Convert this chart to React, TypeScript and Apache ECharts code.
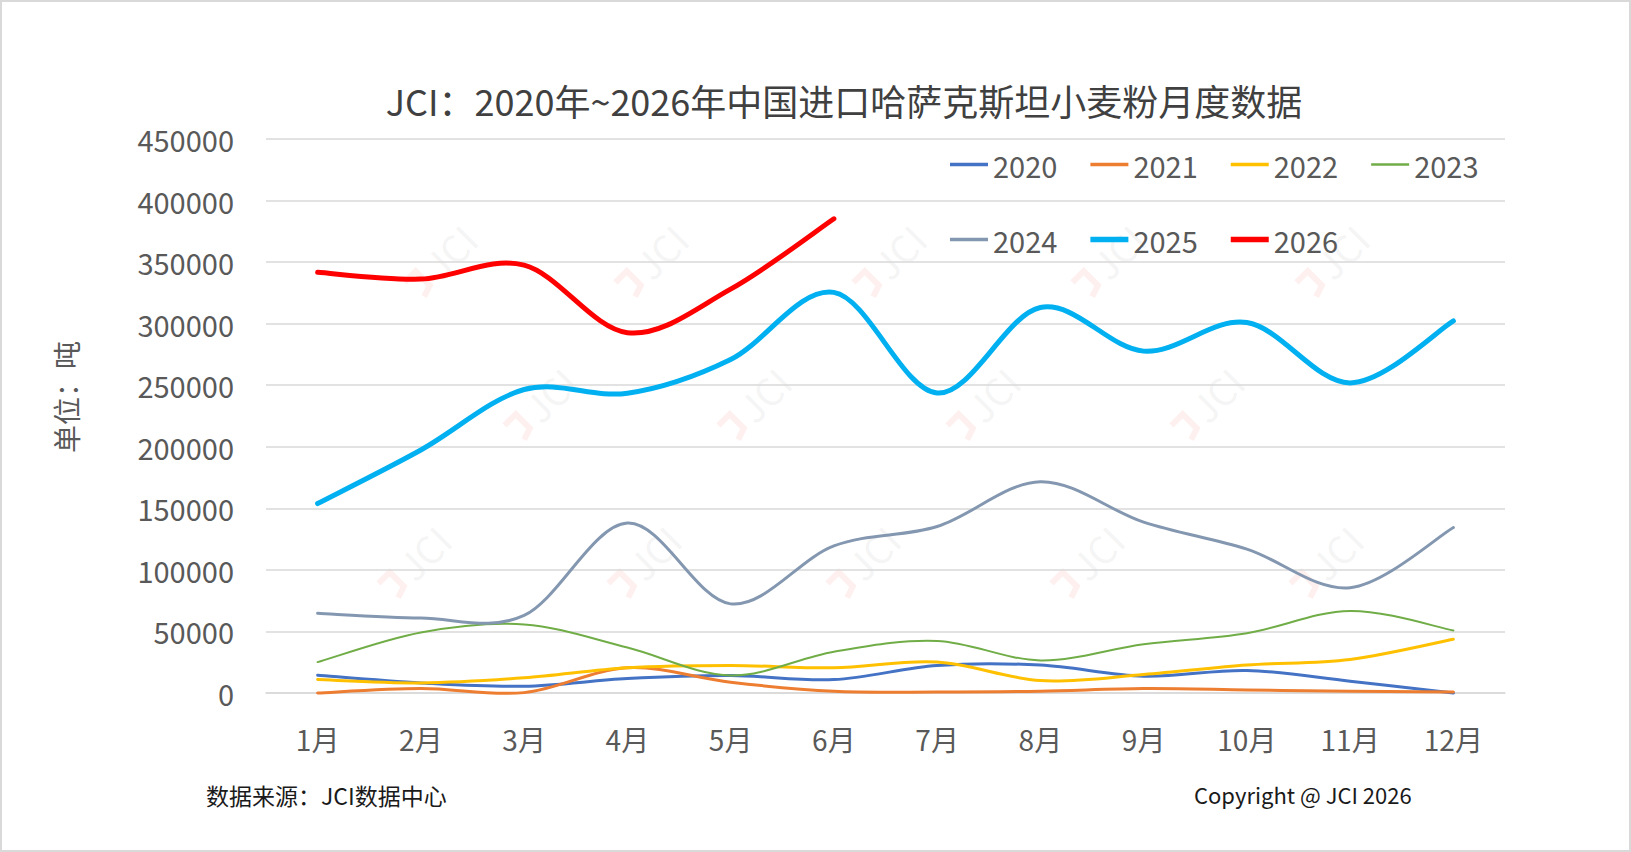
import React, { useEffect, useRef } from 'react';
import * as echarts from 'echarts';

const months = ['1月', '2月', '3月', '4月', '5月', '6月', '7月', '8月', '9月', '10月', '11月', '12月'];

const y2020 = [14500, 8200, 5500, 11700, 14200, 10900, 22400, 22700, 13700, 18300, 9600, 0];
const y2021 = [0, 3600, 300, 20500, 8700, 1400, 800, 1400, 3600, 2500, 1400, 800];
const y2022 = [10900, 8200, 12300, 20500, 22400, 20500, 25100, 10100, 15000, 22700, 27300, 43700];
const y2023 = [25100, 49200, 55700, 36900, 14200, 33500, 42300, 26500, 39600, 48600, 66700, 50800];
const y2024 = [64700, 60900, 63000, 138000, 72400, 119500, 135200, 171600, 138800, 116900, 85500, 134400];
const y2025 = [153900, 197400, 246500, 243500, 270900, 325400, 243700, 313100, 277700, 300900, 251900, 302200];
const y2026 = [341700, 336200, 347500, 292700, 328100, 385200];

const legendRow1 = ['2020', '2021', '2022', '2023'];
const legendRow2 = ['2024', '2025', '2026'];

const FONT = '"Noto Sans CJK SC", "Noto Sans", sans-serif';

const colors: Record<string, string> = {
  '2020': '#4472C4',
  '2021': '#ED7D31',
  '2022': '#FFC000',
  '2023': '#70AD47',
  '2024': '#8497B0',
  '2025': '#00B0F0',
  '2026': '#FF0000',
};
const widths: Record<string, number> = {
  '2020': 3, '2021': 3, '2022': 3, '2023': 2, '2024': 3, '2025': 5, '2026': 5,
};

// faint watermark spots
const marks = [
  [444, 257], [655, 257], [893, 257], [1112, 257], [1336, 257],
  [544, 400], [758, 400], [987, 400], [1211, 400],
  [418, 558], [648, 558], [867, 558], [1091, 558], [1330, 558],
];

// Excel-like smoothed line (Catmull-Rom through the points)
function smoothPath(pts: number[][]) {
  let d = `M${pts[0][0]},${pts[0][1]}`;
  for (let i = 0; i < pts.length - 1; i++) {
    const p0 = pts[i - 1] || pts[i];
    const p1 = pts[i];
    const p2 = pts[i + 1];
    const p3 = pts[i + 2] || p2;
    const c1x = p1[0] + (p2[0] - p0[0]) / 6;
    const c1y = p1[1] + (p2[1] - p0[1]) / 6;
    const c2x = p2[0] - (p3[0] - p1[0]) / 6;
    const c2y = p2[1] - (p3[1] - p1[1]) / 6;
    d += ` C${c1x},${c1y} ${c2x},${c2y} ${p2[0]},${p2[1]}`;
  }
  return d;
}

export default function App() {
  const chartRef = useRef<HTMLDivElement>(null);

  useEffect(() => {
    if (!chartRef.current) return;
    const chart = echarts.init(chartRef.current, undefined, { renderer: 'svg' });

    const mk = (name: string, values: number[]) => ({
      name,
      type: 'custom',
      data: values.map((v, i) => [i, v]),
      encode: { x: 0, y: 1 },
      itemStyle: { color: colors[name] },
      renderItem: (params: any, api: any) => {
        if (params.dataIndex !== 0) return null;
        const pts = values.map((v, i) => api.coord([i, v]));
        return {
          type: 'path',
          shape: { pathData: smoothPath(pts) },
          style: {
            fill: 'none',
            stroke: colors[name],
            lineWidth: widths[name],
            lineCap: 'round',
            lineJoin: 'round',
          },
        };
      },
    });

    const legendItems = (names: string[]) =>
      names.map((n) => ({
        name: n,
        icon: `path://M0,0H38V${widths[n] + 0.5}H0Z`,
        itemStyle: { color: colors[n], borderWidth: 0 },
      }));

    const watermark = marks.map(([x, y]) => ({
      type: 'group',
      x,
      y,
      rotation: Math.PI / 4,
      silent: true,
      z: -1,
      children: [
        {
          type: 'polyline',
          shape: { points: [[-46, -10], [-30, -10], [-30, 10], [-42, 14]] },
          style: { stroke: 'rgba(255,60,60,0.08)', lineWidth: 6, fill: 'none' },
        },
        {
          type: 'text',
          x: -20,
          y: 0,
          style: {
            text: 'JCI',
            font: `38px ${FONT}`,
            fill: 'rgba(150,150,150,0.11)',
            verticalAlign: 'middle',
          },
        },
      ],
    }));

    const legendBase = {
      left: 945,
      itemWidth: 38,
      itemHeight: 14,
      itemGap: 33,
      textStyle: { color: '#595959', fontSize: 29, fontFamily: FONT },
    };

    const option = {
      animation: false,
      backgroundColor: '#ffffff',
      grid: { left: 266, right: 126, top: 139, bottom: 159, containLabel: false },
      legend: [
        { ...legendBase, data: legendItems(legendRow1), top: 145 },
        { ...legendBase, data: legendItems(legendRow2), top: 220 },
      ],
      xAxis: {
        type: 'category',
        data: months,
        boundaryGap: true,
        axisLine: { lineStyle: { color: '#d9d9d9', width: 1.5 } },
        axisTick: { show: false },
        axisLabel: { color: '#595959', fontSize: 28, fontFamily: FONT, margin: 32 },
      },
      yAxis: {
        type: 'value',
        min: 0,
        max: 450000,
        interval: 50000,
        axisLine: { show: false },
        axisTick: { show: false },
        axisLabel: {
          color: '#595959',
          fontSize: 29,
          fontFamily: FONT,
          margin: 32,
          formatter: (v: number) => String(v),
        },
        splitLine: { lineStyle: { color: '#d9d9d9', width: 1.5 } },
      },
      graphic: [
        {
          type: 'rect',
          shape: { x: 1, y: 1, width: 1629, height: 850 },
          style: { fill: 'none', stroke: '#d9d9d9', lineWidth: 2 },
          silent: true,
        },
        ...watermark,
        {
          type: 'text',
          x: 844,
          y: 100,
          style: {
            text: 'JCI：2020年~2026年中国进口哈萨克斯坦小麦粉月度数据',
            font: `36px ${FONT}`,
            fill: '#404040',
            align: 'center',
            verticalAlign: 'middle',
          },
        },
        {
          type: 'text',
          x: 66,
          y: 397,
          rotation: Math.PI / 2,
          style: {
            text: '单位：吨',
            font: `28px ${FONT}`,
            fill: '#595959',
            align: 'center',
            verticalAlign: 'middle',
          },
        },
        {
          type: 'text',
          x: 206,
          y: 795,
          style: {
            text: '数据来源：JCI数据中心',
            font: `23px ${FONT}`,
            fill: '#1a1a1a',
            verticalAlign: 'middle',
          },
        },
        {
          type: 'text',
          x: 1194,
          y: 794,
          style: {
            text: 'Copyright @ JCI 2026',
            font: `22px ${FONT}`,
            fill: '#1a1a1a',
            verticalAlign: 'middle',
          },
        },
      ],
      series: [
        mk('2020', y2020),
        mk('2021', y2021),
        mk('2022', y2022),
        mk('2023', y2023),
        mk('2024', y2024),
        mk('2025', y2025),
        mk('2026', y2026),
      ],
    };

    chart.setOption(option);

    return () => {
      chart.dispose();
    };
  }, []);

  return (
    <div
      ref={chartRef}
      style={{ position: 'fixed', left: 0, top: 0, width: '1631px', height: '852px' }}
    />
  );
}
